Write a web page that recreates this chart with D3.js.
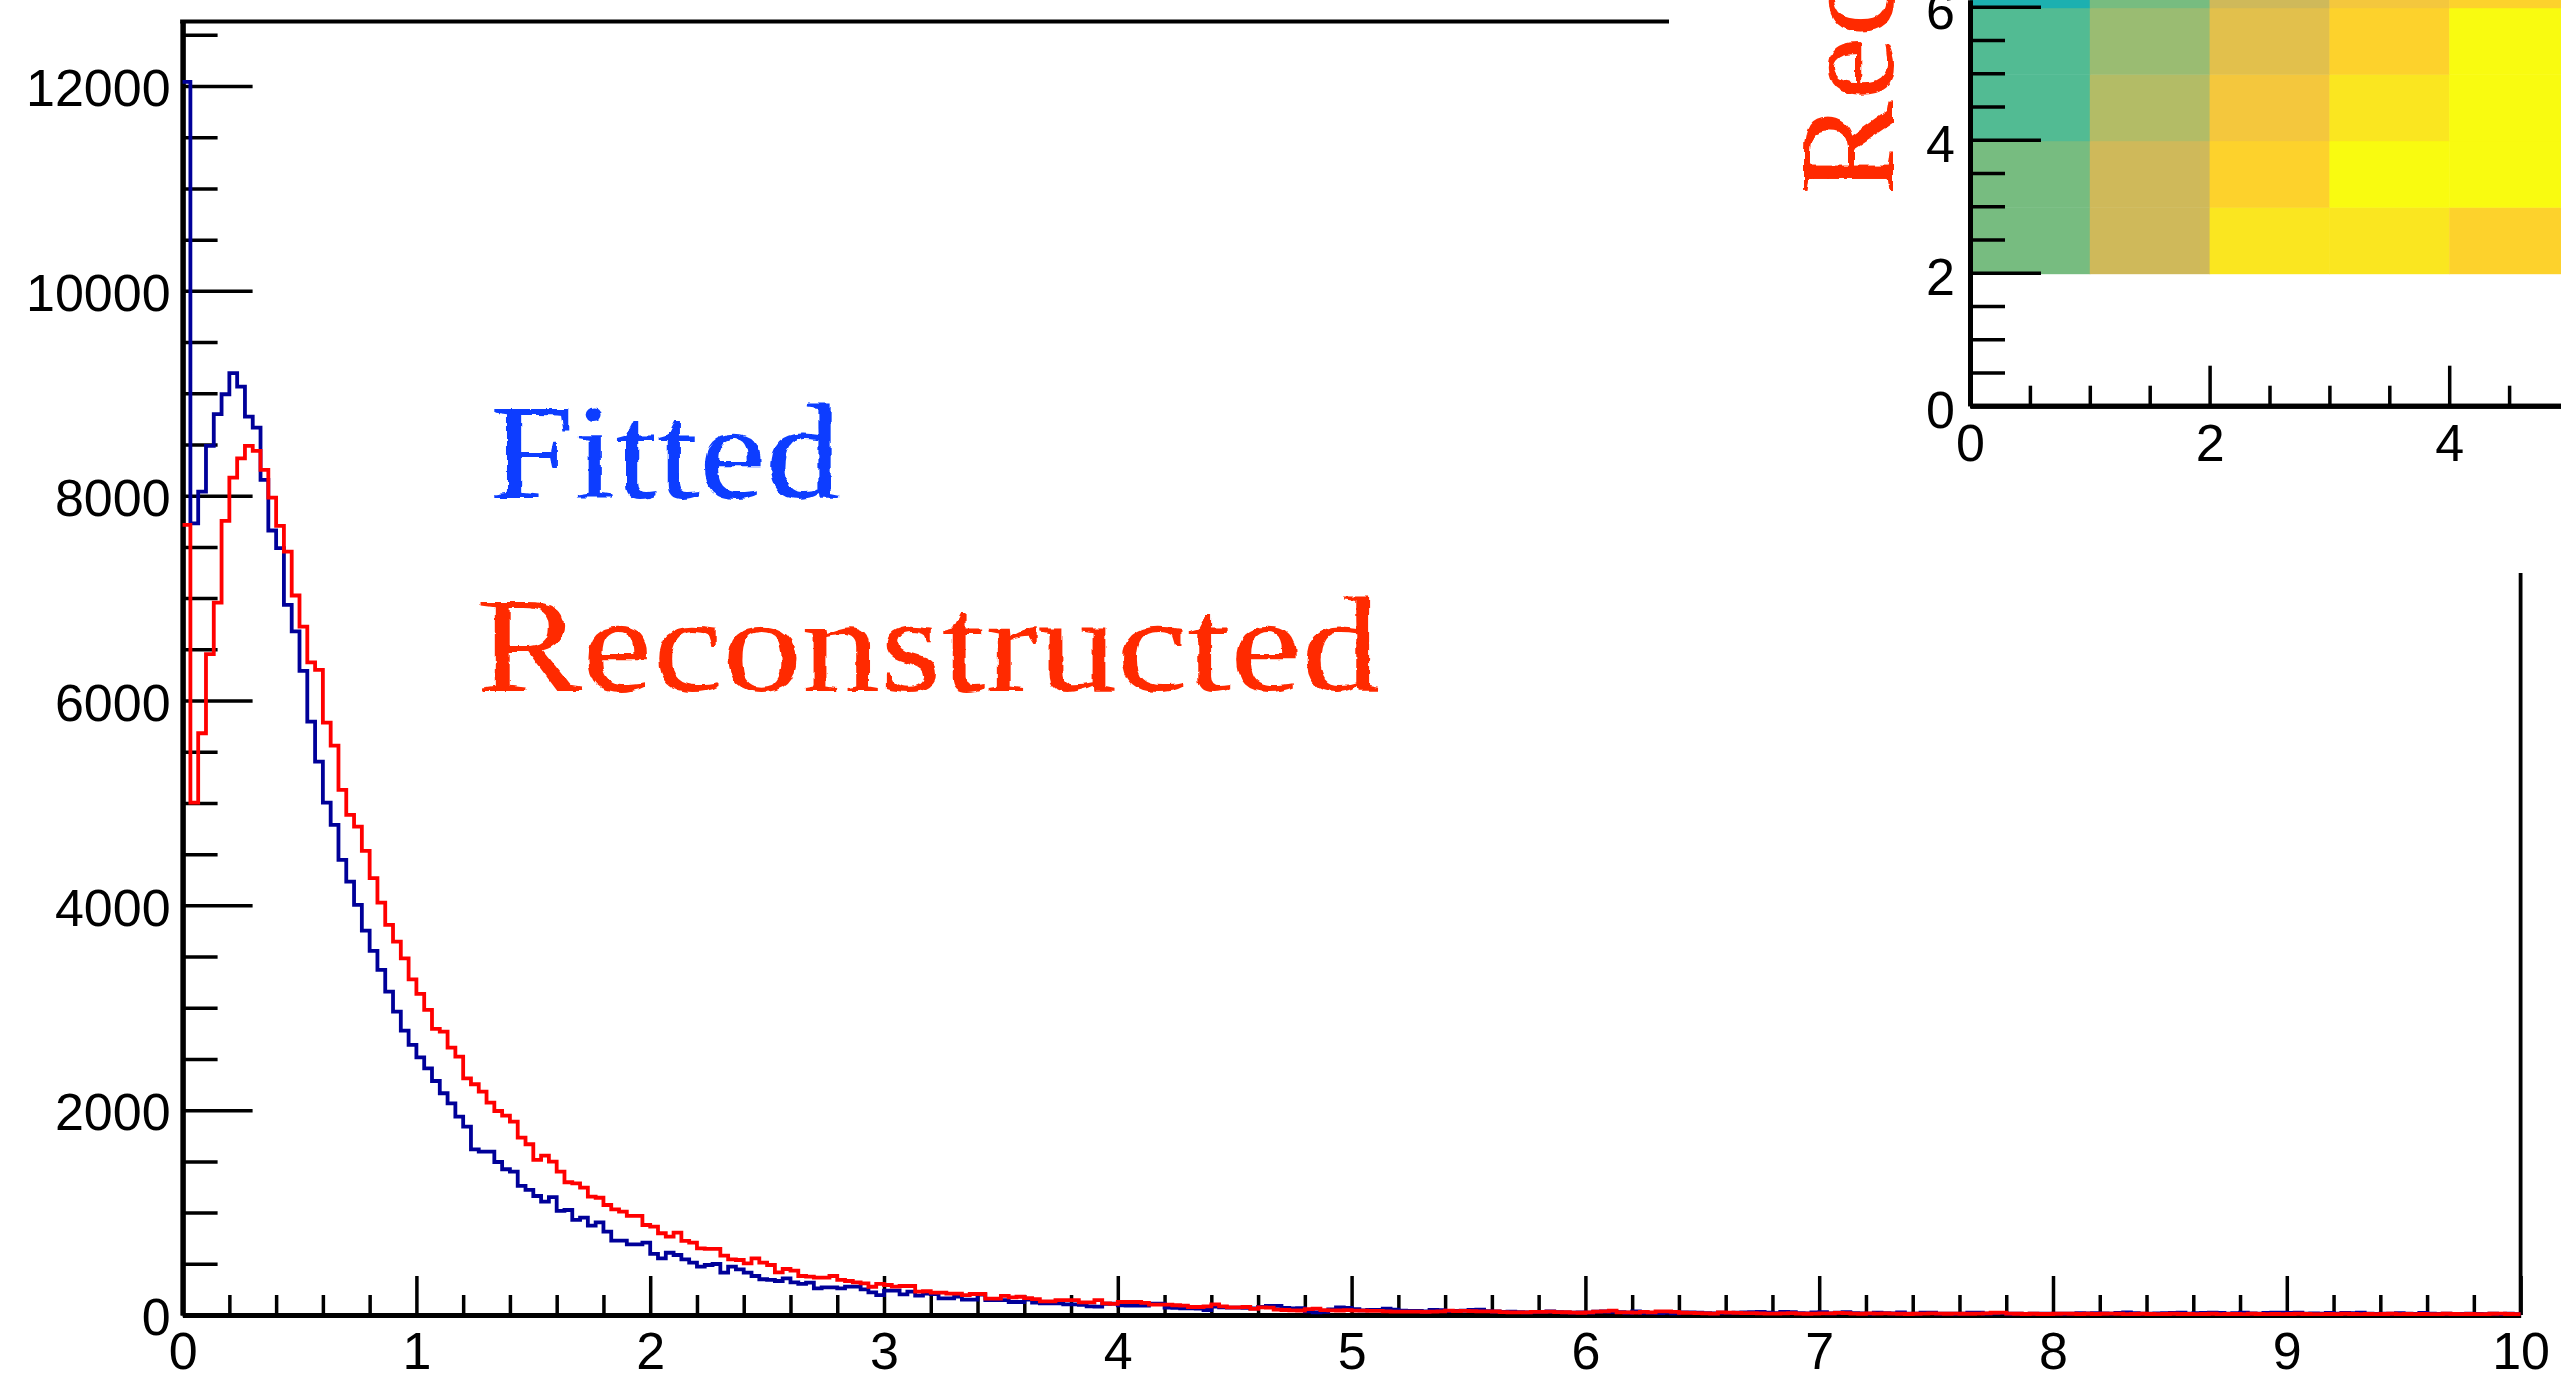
<!DOCTYPE html>
<html><head><meta charset="utf-8">
<style>html,body{margin:0;padding:0;background:#fff;overflow:hidden}svg{display:block}
text{font-family:"Liberation Sans",Arial,sans-serif;fill:#000}
.domain{stroke:#000}.tick line{stroke:#000}</style>
<script src="https://cdn.jsdelivr.net/npm/d3@7/dist/d3.min.js"></script>
</head><body><svg id="c" width="2561" height="1383"></svg>
<script>
const fittedCounts = [
12040,7730,8040,8486,8797,8990,9196,9065,8772,8665,
8154,7660,7487,6933,6674,6289,5794,5404,5003,4785,
4443,4232,4004,3753,3555,3369,3157,2962,2776,2637,
2516,2409,2285,2165,2067,1937,1839,1617,1595,1595,
1494,1423,1400,1260,1221,1162,1107,1150,1016,1025,
928,950,872,905,814,726,726,690,690,706,
596,553,608,586,544,511,472,488,498,413,
472,446,413,381,349,342,332,358,319,303,
316,260,270,270,260,277,277,251,221,195,
238,238,202,228,189,208,205,163,163,180,
150,150,200,146,146,146,127,127,150,120,
114,114,114,104,104,98,85,81,110,112,
95,91,91,92,110,112,72,70,65,65,
62,49,81,75,72,72,70,65,
80,88,90,70,65,68,36,25,30,55,
75,70,58,45,50,50,62,52,42,40,
40,34,50,48,38,40,42,50,52,38,
34,30,32,28,26,28,30,34,28,25,
24,26,24,32,34,30,28,22,34,
22,20,18,24,16,26,26,24,18,16,
22,20,22,26,28,30,22,18,30,28,
18,16,26,28,16,24,28,18,16,14,
22,18,16,26,14,14,24,22,14,14,
12,14,24,22,14,16,20,12,14,10,
14,12,14,14,12,14,18,16,18,16,
14,20,26,18,14,12,16,18,20,22,
14,18,20,22,20,14,18,24,16,12,
20,22,22,20,24,14,16,14,20,14,
20,18,22,14,10,12,14,18,14,10,
20,12,10,14,8,10,12,10,8,14,10,14,8];
const reconstructedCounts = [
7715,5003,5680,6452,6956,7754,8177,8365,8486,8437,
8252,7981,7705,7454,7025,6722,6373,6299,5784,5560,
5127,4883,4769,4531,4265,4027,3809,3646,3483,3278,
3135,2979,2793,2767,2610,2523,2311,2253,2181,2073,
1992,1946,1888,1731,1667,1514,1556,1497,1400,1296,
1286,1243,1155,1145,1074,1032,1009,967,967,879,
862,798,765,804,723,706,651,645,645,579,
544,537,505,553,511,488,417,449,433,381,
374,364,364,381,342,332,319,309,276,303,
293,277,283,283,228,232,218,218,208,208,
195,205,205,160,160,186,172,178,165,155,
133,133,146,146,146,124,124,146,114,108,
127,127,127,118,101,101,101,95,91,78,
78,85,104,85,75,75,78,59,
75,72,52,49,45,44,58,62,48,45,
44,48,42,42,40,40,36,32,33,33,
32,30,33,36,42,38,40,38,36,36,
34,28,26,25,26,30,31,33,28,27,
24,22,25,33,36,42,26,26,24,
30,26,36,36,30,22,20,18,16,14,
26,24,20,18,18,16,14,14,16,18,
14,12,14,16,16,20,18,14,12,16,
14,16,14,12,10,12,14,16,14,12,
14,12,12,14,16,22,24,14,12,10,
12,10,10,12,14,12,10,12,10,12,
14,12,8,10,12,10,8,10,12,10,
10,8,10,12,8,10,10,8,12,10,
8,10,8,10,12,10,8,8,10,8,
12,10,8,10,8,10,12,8,10,8,
10,8,8,12,10,8,10,8,8,12,14,10,8];
const binWidth = 10 / 300;
const mainXMajor = [0,1,2,3,4,5,6,7,8,9,10];
const mainXMinor = d3.range(0,50).map(i=>i/5).filter(v=>v%1!==0);
const mainYMajor = [0,2000,4000,6000,8000,10000,12000];
const mainYMinor = [500,1000,1500,2500,3000,3500,4500,5000,5500,6500,7000,7500,8500,9000,9500,10500,11000,11500,12500];
const insetXMajor = [0,2,4];
const insetXMinor = [0.5,1,1.5,2.5,3,3.5,4.5];
const insetYMajor = [0,2,4,6];
const insetYMinor = [0.5,1,1.5,2.5,3,3.5,4.5,5,5.5];
const heatRows = [2,3,4,5,6];
const heatCols = [0,1,2,3,4];
const heatLevels = [
 [3,4,7,7,8],
 [3,4,8,9,9],
 [2,5,6,7,9],
 [2,10,11,8,9],
 [1,3,4,6,8]];
const heatPalette = ["#ffffff","#1cb0b0","#52bb93","#77bc80","#cfb95a","#b3bc66","#f4c73d","#fae620","#fdd22c","#f9fb10","#9abc72","#e2c04c"];

const svg = d3.select("#c");
const defs = svg.append("defs");
const f = defs.append("filter").attr("id","rough").attr("x","-5%").attr("y","-10%").attr("width","110%").attr("height","120%");
f.append("feTurbulence").attr("type","fractalNoise").attr("baseFrequency","0.09").attr("numOctaves","2").attr("seed","4");
f.append("feDisplacementMap").attr("in","SourceGraphic").attr("scale","5").attr("xChannelSelector","R").attr("yChannelSelector","G");

const x = d3.scaleLinear().domain([0,10]).range([182.6,2520.6]);
const y = d3.scaleLinear().domain([0,12000]).range([1315,86]);
const yTop = 21.5;

function styleAxis(g,tw,dw,fs,dy){
  g.selectAll(".tick line").attr("stroke-width",tw);
  g.selectAll(".domain").attr("stroke-width",dw).attr("fill","none");
  g.selectAll("text").attr("font-size",fs).attr("fill","#000");
  if(dy) g.selectAll("text").attr("dy",dy);
}
const hist = d3.line().x(d=>x(d[0])).y(d=>y(d[1])).curve(d3.curveStepAfter);
function histPts(a){
  const p = a.map((v,i)=>[i*binWidth,v]);
  p.push([a.length*binWidth,a[a.length-1]]);
  return p;
}
const yFull = d3.scaleLinear().domain([0,y.invert(yTop)]).range([1315,yTop]);

let g = svg.append("g");
g.append("g").attr("transform","translate(182.6,0)")
 .call(d3.axisLeft(yFull).tickValues(mainYMinor).tickSize(-35).tickFormat("").tickSizeOuter(0)).call(s=>styleAxis(s,3.5,5,52));
g.append("g").attr("transform","translate(182.6,0)")
 .call(d3.axisLeft(yFull).tickValues(mainYMajor).tickSize(-70).tickPadding(12).tickFormat(d3.format("d")).tickSizeOuter(0)).call(s=>styleAxis(s,3.5,5,52,"0.38em"));
g.append("g").attr("transform","translate(0,1315)")
 .call(d3.axisBottom(x).tickValues(mainXMinor).tickSize(-20).tickFormat("").tickSizeOuter(0)).call(s=>styleAxis(s,3.5,5,52));
g.append("g").attr("transform","translate(0,1315)")
 .call(d3.axisBottom(x).tickValues(mainXMajor).tickSize(-39).tickPadding(17).tickFormat(d3.format("d")).tickSizeOuter(0)).call(s=>styleAxis(s,3.5,5,52));
g.append("line").attr("x1",180.1).attr("x2",2522.5).attr("y1",yTop).attr("y2",yTop).attr("stroke","#000").attr("stroke-width",4);
g.append("line").attr("x1",x(10)).attr("x2",x(10)).attr("y1",yTop).attr("y2",1315).attr("stroke","#000").attr("stroke-width",3.8);

svg.append("path").attr("d",hist(histPts(fittedCounts))).attr("fill","none").attr("stroke","#000099").attr("stroke-width",3.8);
svg.append("path").attr("d",hist(histPts(reconstructedCounts))).attr("fill","none").attr("stroke","#ff0000").attr("stroke-width",3.8);

svg.append("text").text("Fitted").attr("x",490).attr("y",498).attr("textLength",351).attr("lengthAdjust","spacingAndGlyphs")
 .attr("filter","url(#rough)").style("font-family","'Liberation Serif',serif").style("font-size","136px").style("fill","#0a3cff");
svg.append("text").text("Reconstructed").attr("x",477).attr("y",691).attr("textLength",903).attr("lengthAdjust","spacingAndGlyphs")
 .attr("filter","url(#rough)").style("font-family","'Liberation Serif',serif").style("font-size","136px").style("fill","#ff2a00");

svg.append("rect").attr("x",1669).attr("y",0).attr("width",892).attr("height",573).attr("fill","#fff");

const ix = d3.scaleLinear().domain([0,5]).range([1970,2569]);
const iy = d3.scaleLinear().domain([0,6]).range([405.7,6.7]);
const color = d3.scaleOrdinal().domain(d3.range(heatPalette.length)).range(heatPalette);
const cells = svg.append("g");
heatRows.forEach((r,ri)=>heatCols.forEach((c,ci)=>{
  cells.append("rect").attr("x",ix(c)).attr("y",iy(r+1)+1).attr("width",ix(c+1)-ix(c)+0.5).attr("height",iy(r)-iy(r+1)+0.5)
   .attr("fill",color(heatLevels[ri][ci]));
}));
const iyFull = d3.scaleLinear().domain([0,iy.invert(0)]).range([405.7,0]);
let h = svg.append("g");
h.append("g").attr("transform","translate(1970,0)")
 .call(d3.axisLeft(iyFull).tickValues(insetYMinor).tickSize(-35).tickFormat("").tickSizeOuter(0)).call(s=>styleAxis(s,3.5,5,52));
h.append("g").attr("transform","translate(1970,0)")
 .call(d3.axisLeft(iyFull).tickValues(insetYMajor).tickSize(-71).tickPadding(15).tickFormat(d3.format("d")).tickSizeOuter(0)).call(s=>styleAxis(s,3.5,5,52,"0.42em"));
h.append("g").attr("transform","translate(0,405.7)")
 .call(d3.axisBottom(ix).tickValues(insetXMinor).tickSize(-20).tickFormat("").tickSizeOuter(0)).call(s=>styleAxis(s,3.5,5,52));
h.append("g").attr("transform","translate(0,405.7)")
 .call(d3.axisBottom(ix).tickValues(insetXMajor).tickSize(-40).tickPadding(18).tickFormat(d3.format("d")).tickSizeOuter(0)).call(s=>styleAxis(s,3.5,5,52));
svg.append("text").text("Rec").attr("transform","translate(1893,195) rotate(-90)").attr("textLength",221).attr("lengthAdjust","spacingAndGlyphs")
 .attr("filter","url(#rough)").style("font-family","'Liberation Serif',serif").style("font-size","136px").style("fill","#ff2a00");
</script></body></html>
